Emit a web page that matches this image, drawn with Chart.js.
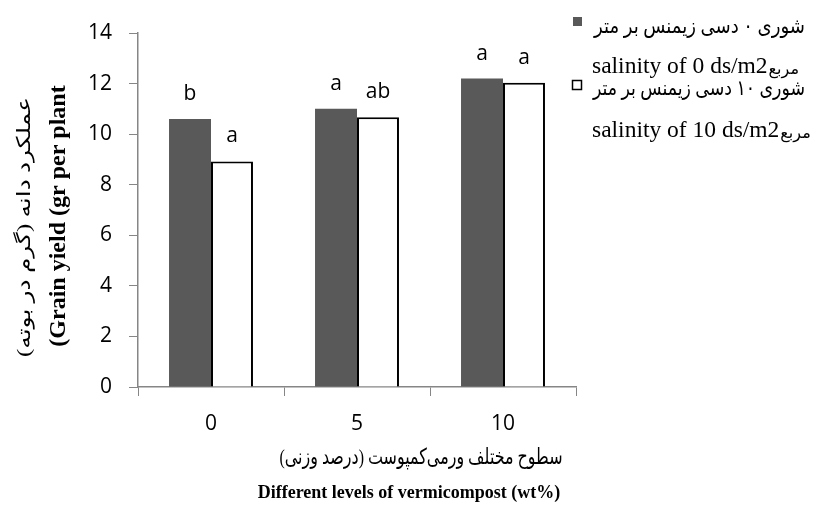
<!DOCTYPE html>
<html>
<head>
<meta charset="utf-8">
<script src="https://cdn.jsdelivr.net/npm/chart.js@4.4.1/dist/chart.umd.min.js"></script>
<style>
html,body{margin:0;padding:0;background:#fff;}
#wrap{position:relative;width:818px;height:510px;}
</style>
</head>
<body>
<div id="wrap"><canvas id="c" width="818" height="510"></canvas></div>
<script>
// ---- data ----
const categories = ['0', '5', '10'];
const salinity0 = [10.6, 11.0, 12.2];
const salinity10 = [8.92, 10.67, 12.03];
const letters0 = ['b', 'a', 'a'];
const letters10 = ['a', 'ab', 'a'];
const legend0 = ['شوری ۰ دسی زیمنس بر متر', 'salinity of 0 ds/m2', 'مربع'];
const legend10 = ['شوری ۱۰ دسی زیمنس بر متر', 'salinity of 10 ds/m2', 'مربع'];
const yTitleFa = 'عملکرد دانه (گرم در بوته)';
const yTitleEn = '(Grain yield (gr per plant';
const xTitleFa = 'سطوح مختلف ورمی‌کمپوست (درصد وزنی)';
const xTitleEn = 'Different levels of vermicompost (wt%)';

const DARK = '#595959';
const AXIS = '#868686';
const TICKFONT = "'Open Sans', sans-serif";
const SERIF = "'Liberation Serif', 'DejaVu Sans', serif";
const letterSets = [letters0, letters10];

// draw text scaled horizontally to a target width (keeps glyph height from font)
function fitText(ctx, txt, x, y, w) {
  const m = ctx.measureText(txt).width;
  ctx.save();
  ctx.translate(x, y);
  ctx.scale(w / m, 1);
  ctx.fillText(txt, 0, 0);
  ctx.restore();
}

const decor = {
  id: 'decor',
  afterDatasetsDraw(chart) {
    const ctx = chart.ctx;
    ctx.save();
    ctx.fillStyle = '#000';
    ctx.font = "21px " + TICKFONT;
    ctx.textAlign = 'center';
    ctx.textBaseline = 'alphabetic';
    chart.data.datasets.forEach((ds, di) => {
      const meta = chart.getDatasetMeta(di);
      meta.data.forEach((el, i) => {
        ctx.fillText(letterSets[di][i], el.x, el.y - 19);
      });
    });
    ctx.restore();
  },
  afterDraw(chart) {
    const ctx = chart.ctx;
    ctx.save();
    ctx.fillStyle = '#000';
    // y titles (rotated)
    ctx.save();
    ctx.translate(25, 227);
    ctx.rotate(-Math.PI / 2);
    ctx.direction = 'rtl';
    ctx.textAlign = 'center';
    ctx.textBaseline = 'middle';
    ctx.font = "19px " + SERIF;
    fitText(ctx, yTitleFa, 0, 0, 260);
    ctx.restore();
    ctx.save();
    ctx.translate(59, 216);
    ctx.rotate(-Math.PI / 2);
    ctx.textAlign = 'center';
    ctx.textBaseline = 'middle';
    ctx.font = "bold 24px " + SERIF;
    ctx.fillText(yTitleEn, 0, 0);
    ctx.restore();
    // x titles
    ctx.save();
    ctx.direction = 'rtl';
    ctx.textAlign = 'center';
    ctx.textBaseline = 'middle';
    ctx.font = "22px " + SERIF;
    fitText(ctx, xTitleFa, 421, 458, 283);
    ctx.restore();
    ctx.save();
    ctx.textAlign = 'center';
    ctx.textBaseline = 'alphabetic';
    ctx.font = "bold 18px " + SERIF;
    ctx.fillText(xTitleEn, 409, 498);
    ctx.restore();
    // legend
    ctx.fillStyle = DARK;
    ctx.fillRect(573, 17, 9, 9);
    ctx.fillStyle = '#fff';
    ctx.fillRect(572, 80, 10, 10);
    ctx.strokeStyle = '#000';
    ctx.lineWidth = 1.5;
    ctx.strokeRect(572.5, 80.5, 9, 9);
    ctx.fillStyle = '#000';
    ctx.font = "21px " + SERIF;
    ctx.textBaseline = 'alphabetic';
    ctx.save();
    ctx.direction = 'rtl';
    ctx.textAlign = 'right';
    fitText(ctx, legend0[0], 805, 33, 211);
    fitText(ctx, legend10[0], 805, 95, 212);
    ctx.restore();
    ctx.textAlign = 'left';
    ctx.direction = 'ltr';
    [[legend0, 73], [legend10, 137]].forEach(([lg, yb]) => {
      ctx.font = "23.5px " + SERIF;
      const w = ctx.measureText(lg[1]).width;
      ctx.fillText(lg[1], 592, yb);
      ctx.save();
      ctx.direction = 'rtl';
      ctx.textAlign = 'left';
      ctx.font = "16px " + SERIF;
      ctx.fillText(lg[2], 592 + w + 1, yb + 1);
      ctx.restore();
    });
    ctx.restore();
  }
};

new Chart(document.getElementById('c'), {
  type: 'bar',
  data: {
    labels: categories,
    datasets: [
      { label: legend0.join(' '), data: salinity0, backgroundColor: DARK, borderWidth: 0 },
      { label: legend10.join(' '), data: salinity10, backgroundColor: '#fff', borderColor: '#000', borderWidth: 2, borderSkipped: 'bottom' }
    ]
  },
  options: {
    responsive: false,
    animation: false,
    devicePixelRatio: 1,
    layout: { padding: { left: 0, right: 242, top: 33, bottom: 0 } },
    datasets: { bar: { barPercentage: 1.0, categoryPercentage: 0.575 } },
    plugins: { legend: { display: false }, tooltip: { enabled: false } },
    scales: {
      x: {
        grid: { display: true, drawOnChartArea: false, drawTicks: true, tickLength: 9, color: AXIS, offset: true },
        border: { display: true, color: AXIS, width: 1.5 },
        ticks: { color: '#000', font: { family: TICKFONT, size: 21 }, padding: 15 },
        afterFit(s) { s.height = 123; }
      },
      y: {
        min: 0, max: 14,
        grid: { display: true, drawOnChartArea: false, drawTicks: true, tickLength: 9, color: AXIS },
        border: { display: true, color: AXIS, width: 1.5 },
        ticks: { stepSize: 2, color: '#000', font: { family: TICKFONT, size: 21 }, padding: 17 },
        afterFit(s) { s.width = 138; }
      }
    }
  },
  plugins: [decor]
});
</script>
</body>
</html>
